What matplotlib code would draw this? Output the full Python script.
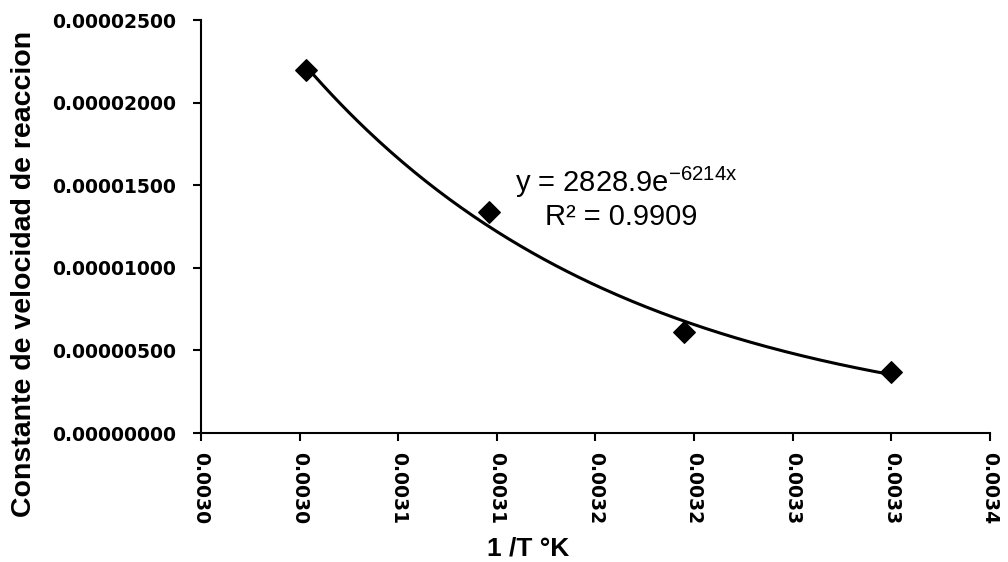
import numpy as np
import matplotlib.pyplot as plt
from matplotlib.ticker import FixedLocator, FuncFormatter

plt.rcParams['font.family'] = ['Liberation Sans', 'DejaVu Sans']

# datos
inv_T = [0.003003, 0.003096, 0.003195, 0.003300]
k_rate = [0.00002200, 0.00001340, 0.00000610, 0.00000370]
eq_text = 'y = 2828.9e$^{\\mathregular{-6214x}}$'
r2_text = 'R² = 0.9909'
x_ticks = [0.00295, 0.00300, 0.00305, 0.00310, 0.00315, 0.00320, 0.00325, 0.00330, 0.00335]
y_ticks = [0, 0.000005, 0.00001, 0.000015, 0.00002, 0.000025]

# ajuste exponencial (linea de tendencia)
b, ln_a = np.polyfit(inv_T, np.log(k_rate), 1)
xf = np.linspace(min(inv_T), max(inv_T), 200)
yf = np.exp(ln_a) * np.exp(b * xf)

fig = plt.figure(figsize=(10.08, 5.62), dpi=100)
ax = fig.add_axes([0.1994, 0.2295, 0.7826, 0.7349])

ax.plot(xf, yf, color='black', lw=2.2, zorder=2)
ax.scatter(inv_T, k_rate, marker='D', s=120, color='black', edgecolor='black', zorder=3)

ax.set_xlim(0.00295, 0.00335)
ax.set_ylim(0, 0.000025)
ax.xaxis.set_major_locator(FixedLocator(x_ticks))
ax.yaxis.set_major_locator(FixedLocator(y_ticks))
ax.xaxis.set_major_formatter(FuncFormatter(lambda v, p: '%.4f' % (round(v * 10000 + 1e-9) / 10000)))
ax.yaxis.set_major_formatter(FuncFormatter(lambda v, p: '%.8f' % v))

for s in ['top', 'right']:
    ax.spines[s].set_visible(False)
for s in ['left', 'bottom']:
    ax.spines[s].set_linewidth(1.5)

ax.tick_params(axis='both', direction='out', length=6, width=1.5, color='black')
ax.tick_params(axis='y', pad=12)
ax.tick_params(axis='x', pad=8)
plt.setp(ax.get_yticklabels(), fontsize=13.5, fontweight='bold', family='DejaVu Sans')
plt.setp(ax.get_xticklabels(), fontsize=13.5, fontweight='bold', family='DejaVu Sans', rotation=270)

ax.set_ylabel('Constante de velocidad de reaccion', fontsize=20.5, fontweight='bold')
ax.yaxis.set_label_coords(-0.208, 0.385)
fig.text(0.524, 0.024, '1 /T °K', fontsize=19, fontweight='bold', ha='center', va='center')

ax.text(0.003109, 0.00001459, eq_text, fontsize=21, ha='left', va='baseline')
ax.text(0.0031244, 0.00001259, r2_text, fontsize=21, ha='left', va='baseline')

fig.savefig('out.png', dpi=100)
